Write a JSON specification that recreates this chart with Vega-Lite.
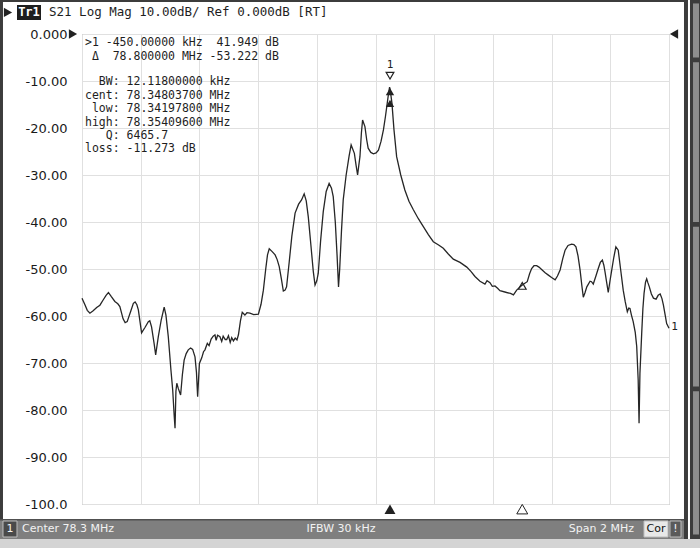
{
  "$schema": "https://vega.github.io/schema/vega-lite/v6.json",
  "width": 587,
  "height": 470,
  "autosize": {"type": "none"},
  "padding": {"left": 82, "top": 34, "right": 31, "bottom": 44},
  "background": "white",
  "config": {
    "view": {"stroke": "#9a9a9a", "strokeWidth": 1},
    "axis": {"gridColor": "#e0e0e0", "gridWidth": 1}
  },
  "encoding": {
    "x": {
      "field": "f", "type": "quantitative",
      "scale": {"domain": [77.3, 79.3], "nice": false, "zero": false},
      "axis": {"grid": true, "labels": false, "ticks": false, "domain": false, "title": null,
               "values": [77.3, 77.5, 77.7, 77.9, 78.1, 78.3, 78.5, 78.7, 78.9, 79.1, 79.3]}
    },
    "y": {
      "field": "db", "type": "quantitative",
      "scale": {"domain": [-100, 0], "nice": false, "zero": false},
      "axis": {"grid": true, "ticks": false, "domain": false, "title": null,
               "values": [-100, -90, -80, -70, -60, -50, -40, -30, -20, -10, 0],
               "labelExpr": "datum.value == 0 ? '0.000' : (datum.value == -100 ? '-100.0' : '-' + format(-datum.value, '.2f'))",
               "labelFont": "DejaVu Sans", "labelFontSize": 13, "labelColor": "#1a1a1a", "labelPadding": 15}
    }
  },
  "layer": [
    {
      "data": {"values": [{"f": 77.0206, "f2": 79.3511, "db": -103.19, "db2": -107.45}]},
      "mark": {"type": "rect", "fill": "#7f7f7f", "clip": false},
      "encoding": {"x2": {"field": "f2"}, "y2": {"field": "db2"}}
    },
    {
      "data": {"values": [{"f": 77.0206, "f2": 79.3511, "db": -103.19, "db2": -103.5}]},
      "mark": {"type": "rect", "fill": "#505050", "clip": false},
      "encoding": {"x2": {"field": "f2"}, "y2": {"field": "db2"}}
    },
    {
      "data": {"values": [{"f": 77.0206, "f2": 79.4056, "db": -107.45, "db2": -109.36}]},
      "mark": {"type": "rect", "fill": "#d4d4d4", "clip": false},
      "encoding": {"x2": {"field": "f2"}, "y2": {"field": "db2"}}
    },
    {
      "data": {"values": [
        {"f": 77.0206, "f2": 77.0308, "db": 7.234, "db2": -103.19},
        {"f": 77.0206, "f2": 79.3647, "db": 7.234, "db2": 6.809},
        {"f": 79.3511, "f2": 79.3647, "db": 7.234, "db2": -107.45},
        {"f": 79.3715, "f2": 79.4056, "db": 7.234, "db2": -107.45}
      ]},
      "mark": {"type": "rect", "fill": "#3c3c3c", "clip": false},
      "encoding": {"x2": {"field": "f2"}, "y2": {"field": "db2"}}
    },
    {
      "data": {"values": [
        {"f": 79.3818, "f2": 79.4022, "db": 6.5, "db2": -5.0},
        {"f": 79.3818, "f2": 79.4022, "db": -6.0, "db2": -40.0},
        {"f": 79.3818, "f2": 79.4022, "db": -41.0, "db2": -75.0},
        {"f": 79.3818, "f2": 79.4022, "db": -76.0, "db2": -106.5}
      ]},
      "mark": {"type": "rect", "fill": "#8e8e8e", "clip": false},
      "encoding": {"x2": {"field": "f2"}, "y2": {"field": "db2"}}
    },
    {
      "data": {"values": [{"f": 77.0308, "f2": 77.0785, "db": -103.62, "db2": -107.02}]},
      "mark": {"type": "rect", "fill": "#4a4a4a", "stroke": "#bdbdbd", "strokeWidth": 1, "clip": false},
      "encoding": {"x2": {"field": "f2"}, "y2": {"field": "db2"}}
    },
    {
      "data": {"values": [{"f": 79.2148, "f2": 79.2966, "db": -103.62, "db2": -107.02}]},
      "mark": {"type": "rect", "fill": "#e8e8e8", "stroke": "#bdbdbd", "strokeWidth": 1, "clip": false},
      "encoding": {"x2": {"field": "f2"}, "y2": {"field": "db2"}}
    },
    {
      "data": {"values": [{"f": 79.3034, "f2": 79.3409, "db": -103.62, "db2": -107.02}]},
      "mark": {"type": "rect", "fill": "#5a5a5a", "stroke": "#bdbdbd", "strokeWidth": 1, "clip": false},
      "encoding": {"x2": {"field": "f2"}, "y2": {"field": "db2"}}
    },
    {
      "data": {"values": [{"f": 77.0785, "f2": 77.1603, "db": 6.17, "db2": 2.979}]},
      "mark": {"type": "rect", "fill": "#1e1e1e", "clip": false},
      "encoding": {"x2": {"field": "f2"}, "y2": {"field": "db2"}}
    },
    {
      "data": {"values": [
        {"f": 77.0956, "db": -105.32, "t": "Center 78.3 MHz"}
      ]},
      "mark": {"type": "text", "align": "left", "baseline": "middle", "font": "DejaVu Sans", "fontSize": 11, "color": "#f2f2f2", "clip": false},
      "encoding": {"text": {"field": "t"}}
    },
    {
      "data": {"values": [
        {"f": 78.1825, "db": -105.32, "t": "IFBW 30 kHz"},
        {"f": 77.0547, "db": -105.32, "t": "1"},
        {"f": 79.3222, "db": -105.32, "t": "!"}
      ]},
      "mark": {"type": "text", "align": "center", "baseline": "middle", "font": "DejaVu Sans", "fontSize": 11, "color": "#f2f2f2", "clip": false},
      "encoding": {"text": {"field": "t"}}
    },
    {
      "data": {"values": [{"f": 79.1808, "db": -105.32, "t": "Span 2 MHz"}]},
      "mark": {"type": "text", "align": "right", "baseline": "middle", "font": "DejaVu Sans", "fontSize": 11, "color": "#f2f2f2", "clip": false},
      "encoding": {"text": {"field": "t"}}
    },
    {
      "data": {"values": [{"f": 79.2557, "db": -105.32, "t": "Cor"}]},
      "mark": {"type": "text", "align": "center", "baseline": "middle", "font": "DejaVu Sans", "fontSize": 11, "color": "#111111", "clip": false},
      "encoding": {"text": {"field": "t"}}
    },
    {
      "data": {"values": [{"f": 77.1194, "db": 4.6, "t": "Tr1"}]},
      "mark": {"type": "text", "align": "center", "baseline": "middle", "font": "DejaVu Sans Mono", "fontSize": 12, "fontWeight": "bold", "color": "#ffffff", "clip": false},
      "encoding": {"text": {"field": "t"}}
    },
    {
      "data": {"values": [{"f": 77.1876, "db": 4.6, "t": "S21 Log Mag 10.00dB/ Ref 0.000dB [RT]"}]},
      "mark": {"type": "text", "align": "left", "baseline": "middle", "font": "DejaVu Sans Mono", "fontSize": 12.5, "color": "#1e1e1e", "clip": false},
      "encoding": {"text": {"field": "t"}}
    },
    {
      "data": {"values": [
        {"f": 77.3102, "db": -2.02, "t": ">1\u00a0-450.00000\u00a0kHz\u00a0\u00a041.949\u00a0dB"},
        {"f": 77.3102, "db": -4.89, "t": "\u200b\u00a0Δ\u00a0\u00a078.800000\u00a0MHz\u00a0-53.222\u00a0dB"},
        {"f": 77.3102, "db": -10.21, "t": "\u200b\u00a0\u00a0BW:\u00a012.11800000\u00a0kHz"},
        {"f": 77.3102, "db": -13.09, "t": "cent:\u00a078.34803700\u00a0MHz"},
        {"f": 77.3102, "db": -15.96, "t": "\u200b\u00a0low:\u00a078.34197800\u00a0MHz"},
        {"f": 77.3102, "db": -18.83, "t": "high:\u00a078.35409600\u00a0MHz"},
        {"f": 77.3102, "db": -21.7, "t": "\u200b\u00a0\u00a0\u00a0Q:\u00a06465.7"},
        {"f": 77.3102, "db": -24.57, "t": "loss:\u00a0-11.273\u00a0dB"}
      ]},
      "mark": {"type": "text", "align": "left", "baseline": "middle", "font": "DejaVu Sans Mono", "fontSize": 11.5, "color": "#1e1e1e", "clip": false},
      "encoding": {"text": {"field": "t"}}
    },
    {
      "data": {"values": [
        {"f": 77.0479, "db": 4.6},
        {"f": 77.2693, "db": 0}
      ]},
      "mark": {"type": "point", "shape": "triangle-right", "filled": true, "size": 90, "color": "#222222", "opacity": 1, "clip": false}
    },
    {
      "data": {"values": [{"f": 79.317, "db": 0}]},
      "mark": {"type": "point", "shape": "triangle-left", "filled": true, "size": 90, "color": "#222222", "opacity": 1, "clip": false}
    },
    {
      "data": {"values": [
        {"f":77.300,"db":-56.2},{"f":77.310,"db":-57.6},{"f":77.318,"db":-58.8},{"f":77.327,"db":-59.4},{"f":77.338,"db":-58.9},{"f":77.350,"db":-58.2},{"f":77.361,"db":-57.7},{"f":77.372,"db":-56.6},{"f":77.382,"db":-55.6},{"f":77.390,"db":-55.0},{"f":77.400,"db":-55.9},{"f":77.412,"db":-56.9},{"f":77.422,"db":-57.4},{"f":77.429,"db":-58.0},{"f":77.440,"db":-60.6},{"f":77.447,"db":-61.4},{"f":77.454,"db":-61.2},{"f":77.466,"db":-59.0},{"f":77.475,"db":-57.3},{"f":77.481,"db":-57.0},{"f":77.487,"db":-57.6},{"f":77.492,"db":-58.7},{"f":77.503,"db":-63.6},{"f":77.515,"db":-62.4},{"f":77.526,"db":-61.2},{"f":77.531,"db":-61.0},{"f":77.537,"db":-62.3},{"f":77.546,"db":-66.0},{"f":77.551,"db":-68.3},{"f":77.560,"db":-64.4},{"f":77.570,"db":-60.8},{"f":77.580,"db":-58.1},{"f":77.586,"db":-59.8},{"f":77.594,"db":-64.4},{"f":77.603,"db":-71.5},{"f":77.609,"db":-75.7},{"f":77.614,"db":-81.1},{"f":77.617,"db":-83.9},{"f":77.620,"db":-76.0},{"f":77.623,"db":-74.3},{"f":77.628,"db":-75.4},{"f":77.636,"db":-76.8},{"f":77.642,"db":-72.5},{"f":77.648,"db":-69.4},{"f":77.655,"db":-68.0},{"f":77.662,"db":-67.2},{"f":77.670,"db":-66.8},{"f":77.677,"db":-67.1},{"f":77.685,"db":-68.7},{"f":77.690,"db":-72.0},{"f":77.694,"db":-77.2},{"f":77.700,"db":-70.1},{"f":77.708,"db":-68.9},{"f":77.714,"db":-67.6},{"f":77.719,"db":-67.2},{"f":77.727,"db":-65.8},{"f":77.733,"db":-66.3},{"f":77.740,"db":-64.9},{"f":77.747,"db":-64.3},{"f":77.753,"db":-64.0},{"f":77.757,"db":-65.2},{"f":77.762,"db":-64.1},{"f":77.770,"db":-64.4},{"f":77.776,"db":-65.4},{"f":77.781,"db":-64.3},{"f":77.788,"db":-65.0},{"f":77.793,"db":-65.0},{"f":77.799,"db":-64.2},{"f":77.805,"db":-65.6},{"f":77.810,"db":-64.6},{"f":77.816,"db":-65.3},{"f":77.822,"db":-64.7},{"f":77.828,"db":-65.1},{"f":77.833,"db":-64.0},{"f":77.840,"db":-61.0},{"f":77.846,"db":-59.2},{"f":77.855,"db":-59.8},{"f":77.862,"db":-59.3},{"f":77.872,"db":-59.4},{"f":77.885,"db":-59.7},{"f":77.901,"db":-59.6},{"f":77.910,"db":-57.5},{"f":77.918,"db":-54.5},{"f":77.926,"db":-50.0},{"f":77.932,"db":-47.0},{"f":77.938,"db":-45.7},{"f":77.948,"db":-46.3},{"f":77.958,"db":-47.0},{"f":77.965,"db":-48.0},{"f":77.972,"db":-49.5},{"f":77.979,"db":-52.0},{"f":77.986,"db":-54.7},{"f":77.992,"db":-54.5},{"f":77.997,"db":-53.8},{"f":78.006,"db":-48.5},{"f":78.015,"db":-43.0},{"f":78.026,"db":-38.1},{"f":78.038,"db":-36.2},{"f":78.048,"db":-35.3},{"f":78.057,"db":-34.0},{"f":78.064,"db":-35.5},{"f":78.071,"db":-38.9},{"f":78.080,"db":-45.0},{"f":78.088,"db":-50.5},{"f":78.094,"db":-53.4},{"f":78.100,"db":-52.5},{"f":78.105,"db":-50.9},{"f":78.113,"db":-44.0},{"f":78.122,"db":-37.8},{"f":78.132,"db":-33.5},{"f":78.142,"db":-31.8},{"f":78.150,"db":-32.8},{"f":78.156,"db":-34.6},{"f":78.163,"db":-40.0},{"f":78.169,"db":-47.0},{"f":78.174,"db":-53.8},{"f":78.178,"db":-50.0},{"f":78.184,"db":-42.0},{"f":78.190,"db":-35.3},{"f":78.200,"db":-30.0},{"f":78.210,"db":-26.0},{"f":78.217,"db":-23.6},{"f":78.228,"db":-25.4},{"f":78.234,"db":-28.0},{"f":78.239,"db":-30.0},{"f":78.243,"db":-28.0},{"f":78.247,"db":-26.1},{"f":78.252,"db":-21.0},{"f":78.256,"db":-18.3},{"f":78.264,"db":-19.7},{"f":78.270,"db":-22.5},{"f":78.275,"db":-24.3},{"f":78.284,"db":-25.2},{"f":78.293,"db":-25.5},{"f":78.302,"db":-25.3},{"f":78.310,"db":-24.7},{"f":78.319,"db":-22.8},{"f":78.327,"db":-20.4},{"f":78.334,"db":-17.5},{"f":78.340,"db":-14.7},{"f":78.345,"db":-12.4},{"f":78.348,"db":-11.3},{"f":78.351,"db":-12.3},{"f":78.356,"db":-14.7},{"f":78.363,"db":-20.4},{"f":78.372,"db":-26.1},{"f":78.386,"db":-30.0},{"f":78.400,"db":-33.2},{"f":78.414,"db":-35.6},{"f":78.429,"db":-37.4},{"f":78.446,"db":-39.3},{"f":78.463,"db":-41.0},{"f":78.480,"db":-42.7},{"f":78.497,"db":-44.2},{"f":78.515,"db":-44.9},{"f":78.531,"db":-45.6},{"f":78.548,"db":-46.8},{"f":78.565,"db":-47.9},{"f":78.588,"db":-48.6},{"f":78.611,"db":-49.6},{"f":78.625,"db":-50.5},{"f":78.639,"db":-51.6},{"f":78.656,"db":-52.6},{"f":78.673,"db":-53.2},{"f":78.680,"db":-52.5},{"f":78.690,"db":-52.9},{"f":78.698,"db":-53.7},{"f":78.707,"db":-53.6},{"f":78.716,"db":-54.1},{"f":78.724,"db":-54.6},{"f":78.747,"db":-55.0},{"f":78.760,"db":-55.2},{"f":78.770,"db":-55.5},{"f":78.781,"db":-54.5},{"f":78.796,"db":-53.6},{"f":78.805,"db":-53.2},{"f":78.817,"db":-52.7},{"f":78.825,"db":-51.0},{"f":78.832,"db":-49.9},{"f":78.840,"db":-49.3},{"f":78.849,"db":-49.3},{"f":78.857,"db":-49.6},{"f":78.866,"db":-50.1},{"f":78.878,"db":-50.8},{"f":78.889,"db":-51.3},{"f":78.900,"db":-51.8},{"f":78.912,"db":-52.3},{"f":78.920,"db":-51.5},{"f":78.929,"db":-50.2},{"f":78.938,"db":-47.8},{"f":78.946,"db":-46.0},{"f":78.956,"db":-45.0},{"f":78.968,"db":-44.7},{"f":78.976,"db":-44.8},{"f":78.983,"db":-45.3},{"f":78.990,"db":-47.2},{"f":78.997,"db":-50.2},{"f":79.003,"db":-53.5},{"f":79.008,"db":-56.0},{"f":79.014,"db":-55.0},{"f":79.020,"db":-53.8},{"f":79.031,"db":-52.6},{"f":79.036,"db":-52.7},{"f":79.042,"db":-53.2},{"f":79.051,"db":-51.5},{"f":79.059,"db":-49.9},{"f":79.066,"db":-48.6},{"f":79.073,"db":-48.1},{"f":79.078,"db":-49.2},{"f":79.082,"db":-50.6},{"f":79.088,"db":-53.0},{"f":79.093,"db":-55.0},{"f":79.099,"db":-52.5},{"f":79.105,"db":-50.2},{"f":79.112,"db":-47.5},{"f":79.119,"db":-45.3},{"f":79.127,"db":-46.0},{"f":79.135,"db":-50.0},{"f":79.144,"db":-54.5},{"f":79.151,"db":-57.0},{"f":79.158,"db":-59.1},{"f":79.163,"db":-58.3},{"f":79.167,"db":-58.4},{"f":79.172,"db":-59.8},{"f":79.178,"db":-61.2},{"f":79.185,"db":-63.5},{"f":79.190,"db":-66.5},{"f":79.195,"db":-73.6},{"f":79.198,"db":-82.8},{"f":79.201,"db":-72.2},{"f":79.207,"db":-63.7},{"f":79.211,"db":-58.5},{"f":79.215,"db":-55.2},{"f":79.220,"db":-52.8},{"f":79.224,"db":-52.1},{"f":79.228,"db":-52.9},{"f":79.233,"db":-53.8},{"f":79.240,"db":-55.3},{"f":79.247,"db":-56.2},{"f":79.256,"db":-56.4},{"f":79.263,"db":-55.6},{"f":79.270,"db":-55.3},{"f":79.276,"db":-56.3},{"f":79.281,"db":-57.7},{"f":79.287,"db":-59.8},{"f":79.292,"db":-61.6},{"f":79.300,"db":-62.6}
      ]},
      "mark": {"type": "line", "color": "#262626", "strokeWidth": 1.3, "clip": false}
    },
    {
      "data": {"values": [{"f": 78.3494, "db": -8.87}]},
      "mark": {"type": "point", "shape": "triangle-down", "filled": false, "size": 60, "color": "#222222", "strokeWidth": 1.2, "opacity": 1, "clip": false}
    },
    {
      "data": {"values": [{"f": 78.800, "db": -53.6}]},
      "mark": {"type": "point", "shape": "triangle-up", "filled": false, "size": 60, "color": "#222222", "strokeWidth": 1.2, "opacity": 1, "clip": false}
    },
    {
      "data": {"values": [
        {"f": 78.3494, "db": -12.28},
        {"f": 78.3494, "db": -14.74}
      ]},
      "mark": {"type": "point", "shape": "triangle-up", "filled": true, "size": 70, "color": "#222222", "opacity": 1, "clip": false}
    },
    {
      "data": {"values": [{"f": 78.3494, "db": -101.1}]},
      "mark": {"type": "point", "shape": "triangle-up", "filled": true, "size": 120, "color": "#222222", "opacity": 1, "clip": false}
    },
    {
      "data": {"values": [{"f": 78.800, "db": -101.1}]},
      "mark": {"type": "point", "shape": "triangle-up", "filled": false, "size": 120, "color": "#222222", "strokeWidth": 1, "opacity": 1, "clip": false}
    },
    {
      "data": {"values": [
        {"f": 78.3494, "db": -6.7, "t": "1"},
        {"f": 79.3187, "db": -62.4, "t": "1"}
      ]},
      "mark": {"type": "text", "align": "center", "baseline": "middle", "font": "DejaVu Sans Mono", "fontSize": 11, "color": "#222222", "clip": false},
      "encoding": {"text": {"field": "t"}}
    }
  ]
}
